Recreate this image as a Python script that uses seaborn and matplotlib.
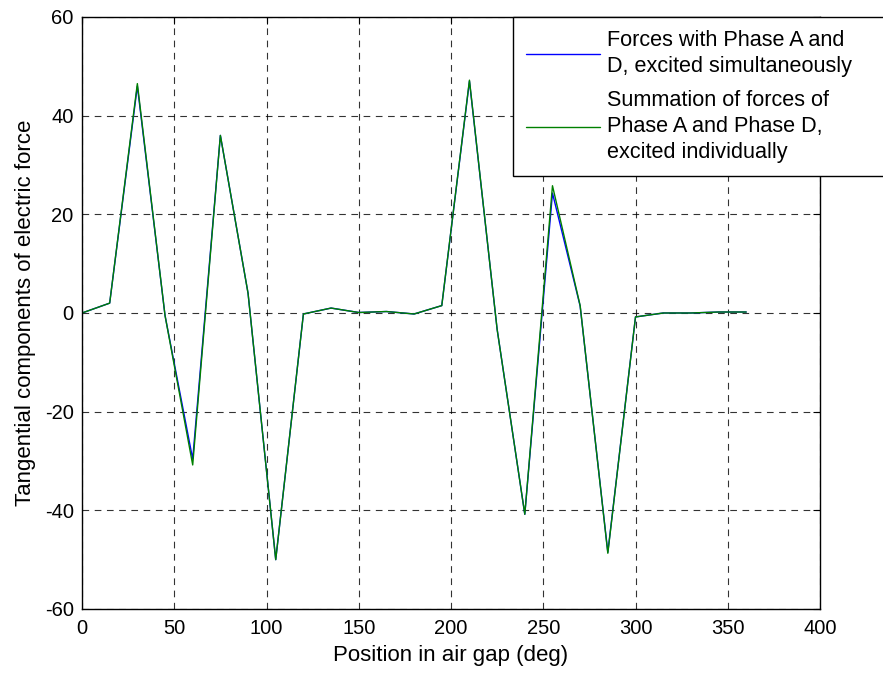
import matplotlib
matplotlib.use("Agg")
import matplotlib.pyplot as plt
import seaborn as sns
import pandas as pd
import numpy as np

positions = [0, 15, 30, 45, 60, 75, 90, 105, 120, 135, 150, 165, 180,
             195, 210, 225, 240, 255, 270, 285, 300, 315, 330, 345, 360]
simultaneous = [0, 2.0, 46.0, -0.5, -29.6, 36.0, 4.0, -50.0, -0.2, 1.0, 0.1, 0.3, -0.2,
                1.5, 47.0, -3.3, -40.8, 24.3, 1.4, -48.5, -0.8, 0.0, 0.0, 0.2, 0.2]
summation = [0, 2.0, 46.5, -0.5, -30.8, 36.0, 4.0, -50.0, -0.2, 1.0, 0.1, 0.3, -0.2,
             1.5, 47.2, -3.3, -40.8, 25.8, 1.5, -48.7, -0.8, 0.0, 0.0, 0.2, 0.2]
labels = ["Forces with Phase A and\nD, excited simultaneously",
          "Summation of forces of\nPhase A and Phase D,\nexcited individually"]
xticks = [0, 50, 100, 150, 200, 250, 300, 350, 400]
yticks = [-60, -40, -20, 0, 20, 40, 60]

df = pd.DataFrame({
    "pos": positions * 2,
    "force": simultaneous + summation,
    "series": [labels[0]] * len(positions) + [labels[1]] * len(positions),
})

sns.set_style("white")
plt.rcParams['font.family'] = ['Liberation Sans', 'DejaVu Sans']
plt.rcParams['text.color'] = 'black'
plt.rcParams['axes.labelcolor'] = 'black'
plt.rcParams['xtick.color'] = 'black'
plt.rcParams['ytick.color'] = 'black'

W, H = 883, 675
fig = plt.figure(figsize=(W / 100, H / 100), dpi=100)
ax = fig.add_axes([82/W, 1-609/H, (820-82)/W, (609-17)/H])

sns.lineplot(data=df, x="pos", y="force", hue="series",
             palette={labels[0]: "#0000ff", labels[1]: "#008000"},
             linewidth=1.0, ax=ax, legend=True)

ax.set_xlim(0, 400)
ax.set_ylim(-60, 60)
ax.set_xticks(xticks)
ax.set_yticks(yticks)
ax.set_xticklabels([str(t) for t in xticks], fontsize=14.5)
ax.set_yticklabels([str(t) for t in yticks], fontsize=14.5)
ax.grid(True, color="black", linestyle=(0, (6, 5)), linewidth=0.8, alpha=0.8)
ax.tick_params(direction="in", top=True, right=True, length=5, width=0.8)
ax.tick_params(axis="x", pad=7)
ax.tick_params(axis="y", pad=6)
for s in ax.spines.values():
    s.set_color("black")
    s.set_linewidth(1.0)

ax.set_xlabel("Position in air gap (deg)", fontsize=16, labelpad=5)
ax.set_ylabel("Tangential components of electric force", fontsize=16, labelpad=6)

leg_h = (175 - 17) / H
leg = ax.legend(loc="upper left",
                bbox_to_anchor=(513/W, 1-17/H - leg_h, (910-513)/W, leg_h),
                bbox_transform=fig.transFigure, mode="expand",
                fontsize=15.6, frameon=True, fancybox=False,
                framealpha=1, edgecolor="black", borderaxespad=0,
                handlelength=3.4, handletextpad=0.3, labelspacing=0.6,
                borderpad=0.62)
for t in leg.get_texts():
    t.set_linespacing(1.3)
leg.get_frame().set_linewidth(1.0)

fig.savefig("out.png", dpi=100)
